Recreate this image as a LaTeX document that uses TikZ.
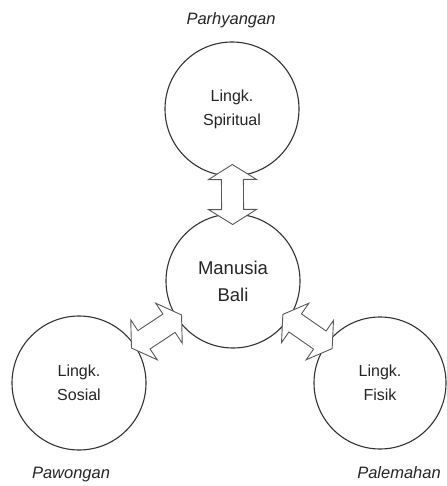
\documentclass[tikz,border=0pt]{standalone}
\usepackage{fontspec}
\setmainfont{Liberation Sans}
\usetikzlibrary{calc}
\tikzset{
  ring/.style={circle, draw=black!80, line width=1.1pt, fill=white, minimum size=134pt, inner sep=0pt, align=center, text=black!85, font=\fontsize{16}{24}\selectfont},
  centre/.style={ring, font=\fontsize{18.5}{27}\selectfont},
  realm/.style={text=black!85, font=\fontsize{16.5}{20}\selectfont\itshape, inner sep=0pt},
  blockarrow/.style={draw=black!65, line width=0.9pt, fill=white, line join=miter}
}
\newcommand{\dblarrowpath}{(-30,0) -- (-15,24) -- (-15,11) -- (15,11) -- (15,24) -- (30,0) -- (15,-24) -- (15,-11) -- (-15,-11) -- (-15,-24) -- cycle}
\begin{document}
\begin{tikzpicture}[x=1pt, y=-1pt]
\useasboundingbox (0,0) rectangle (446,486);
\fill[white] (0,0) rectangle (446,486);

\node[ring] (top) at (232,109) {Lingk.\\Spiritual};
\node[centre] (mid) at (233,281) {Manusia\\Bali};
\node[ring] (lft) at (79,383) {Lingk.\\Sosial};
\node[ring, minimum size=132pt] (rgt) at (380,383) {Lingk.\\Fisik};

\node[realm, anchor=base] (parh) at (231,25) {Parhyangan};
\node[realm, anchor=base] (paw) at (71,478) {Pawongan};
\node[realm, anchor=base] (pal) at (399,478) {Palemahan};

% double arrows between the circles
\path let \p1=($(mid)-(top)$), \n1={atan2(\y1,\x1)} in \pgfextra{\xdef\angA{\n1}};
\path let \p1=($(mid)-(lft)$), \n1={atan2(\y1,\x1)} in \pgfextra{\xdef\angB{\n1}};
\path let \p1=($(rgt)-(mid)$), \n1={atan2(\y1,\x1)} in \pgfextra{\xdef\angC{\n1}};
\coordinate (cA) at ($(top)!0.5!(mid)+(0,-0.5)$);
\coordinate (cB) at ($(lft)!0.5!(mid)+(0.5,-0.5)$);
\coordinate (cC) at ($(mid)!0.5!(rgt)+(1,-0.5)$);
\begin{scope}[shift={(cA)}, rotate=\angA]
  \draw[blockarrow] \dblarrowpath;
\end{scope}
\begin{scope}[shift={(cB)}, rotate=\angB]
  \draw[blockarrow] \dblarrowpath;
\end{scope}
\begin{scope}[shift={(cC)}, rotate=\angC]
  \draw[blockarrow] \dblarrowpath;
\end{scope}
\end{tikzpicture}
\end{document}
